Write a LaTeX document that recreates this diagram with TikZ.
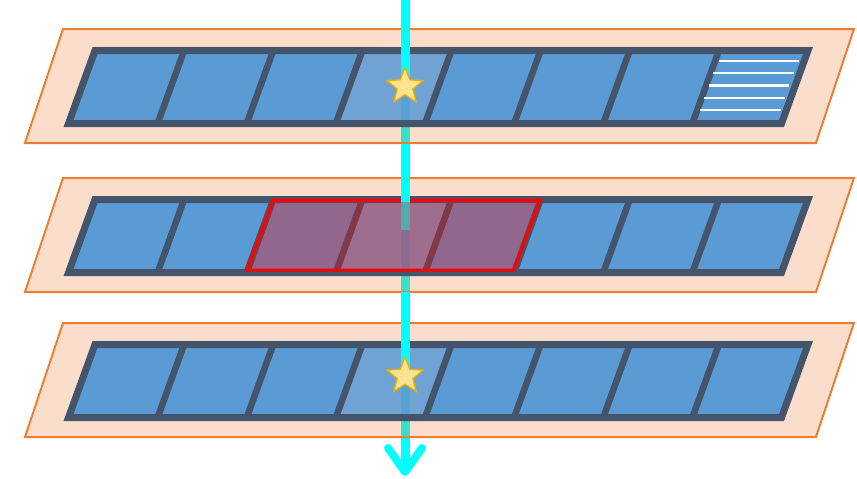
\documentclass[tikz,border=0pt]{standalone}
\usetikzlibrary{shapes.geometric}
\definecolor{planeorange}{HTML}{ED7D31}
\definecolor{trackdark}{HTML}{44546A}
\definecolor{cellblue}{HTML}{5B9BD5}
\definecolor{raycyan}{HTML}{00FFFF}
\definecolor{starfill}{HTML}{FFE38F}
\definecolor{staredge}{HTML}{EDB000}
\definecolor{selred}{HTML}{FF0000}
\tikzset{
  planebox/.style={draw=planeorange, line width=2pt, fill=planeorange, fill opacity=0.25},
  cellbox/.style={fill=cellblue},
  litcell/.style={fill=cellblue, fill opacity=0.87},
  trackedge/.style={draw=trackdark, line width=7pt, line join=miter},
  divider/.style={draw=trackdark, line width=6.5pt},
  ray/.style={draw=raycyan, line width=9pt},
  raytip/.style={draw=raycyan, line width=8pt, line cap=round, line join=round},
  starmark/.style={star, star points=5, star point ratio=2.3, minimum size=38pt, inner sep=0pt, fill=starfill, draw=staredge, line width=1.3pt},
  selbox/.style={draw=selred, line width=3pt, fill=selred, fill opacity=0.33},
  stripe/.style={draw=white, line width=2.2pt},
}
\newcommand\layer[2]{%
  \path[planebox] (63,#1) coordinate (#2-ptl) -- (854,#1) -- (816,{#1+114}) -- (25,{#1+114}) -- cycle;
  \foreach \k/\st in {0/cellbox,1/cellbox,2/cellbox,3/litcell,4/cellbox,5/cellbox,6/cellbox,7/cellbox}{
    \path[\st] ({95+89.125*\k},{#1+21.5}) -- ({95+89.125*(\k+1)},{#1+21.5}) -- ({68.5+89.125*(\k+1)},{#1+94.5}) -- ({68.5+89.125*\k},{#1+94.5}) -- cycle;
  }
  \path[trackedge] (95,{#1+21.5}) -- (808,{#1+21.5}) -- (781.5,{#1+94.5}) -- (68.5,{#1+94.5}) -- cycle;
  \foreach \k in {1,...,7}{
    \path[divider] ({95+89.125*\k},{#1+21.5}) -- ({68.5+89.125*\k},{#1+94.5});
  }
}
\begin{document}
\begin{tikzpicture}[x=1pt,y=-1pt]
\useasboundingbox (0,0) rectangle (857,479);
\coordinate (rayTop) at (405,0);
\coordinate (rayEnd) at (405,472);
\coordinate (tipL) at (388,448);
\coordinate (tipR) at (422,448);
\coordinate (hitA) at (405,86.5);
\coordinate (exitA) at (405,144);
\coordinate (hitB) at (405,202);
\coordinate (midB) at (405,230);
\coordinate (exitB) at (405,292);
\coordinate (hitC) at (405,376);
% ray underneath the layers
\draw[ray] (rayTop) -- (rayEnd);
% three layers
\layer{29}{A}
\layer{178}{B}
\layer{323}{C}
% stripes in last cell of top layer
\draw[stripe] (719,61) -- (799,61);
\draw[stripe] (713,73) -- (794,73);
\draw[stripe] (709,85.5) -- (789,85.5);
\draw[stripe] (704,98) -- (785,98);
\draw[stripe] (700,110) -- (781,110);
% middle layer: ray over cells, under selection
\draw[ray] (hitB) -- (midB);
\path[selbox] (273.2,200) -- (540.5,200) -- (514,270) -- (246.7,270) -- cycle;
% ray segments above the layers
\draw[ray] (rayTop) -- (hitA);
\draw[ray] (exitA) -- (hitB);
\draw[ray] (exitB) -- (hitC);
\draw[raytip] (tipL) -- (rayEnd) -- (tipR);
% stars
\node[starmark] (starA) at (hitA) {};
\node[starmark] (starC) at (hitC) {};
\end{tikzpicture}
\end{document}
